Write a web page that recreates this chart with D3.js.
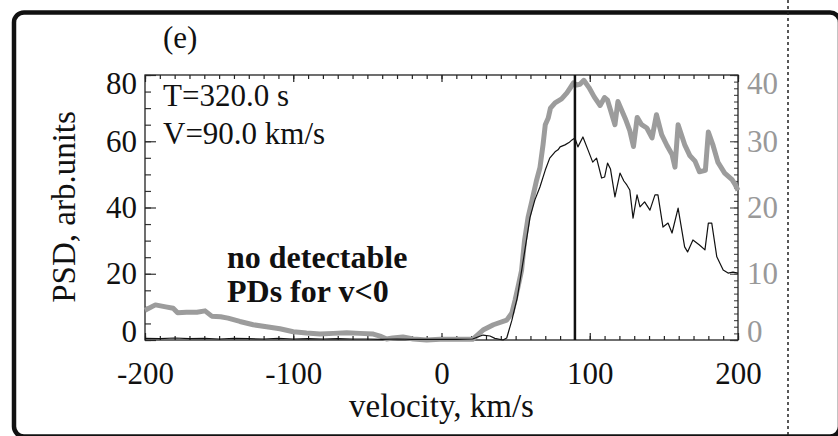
<!DOCTYPE html>
<html>
<head>
<meta charset="utf-8">
<script src="https://cdn.jsdelivr.net/npm/d3@7"></script>
<style>
  body { margin: 0; background: #fff; }
  svg { display: block; }
</style>
</head>
<body>
<div class="psdChart"></div>
<script>
// gray thick curve (right axis)
const grayV = [-200, -193, -186, -181, -178, -172, -165, -159.5, -155, -149, -144, -136, -127, -118, -109, -100,
  -91, -82, -73, -64, -55, -46, -41.5, -37, -33, -26, -19, -10, -1, 21, 28, 35, 44, 47.5, 49.6, 51.6, 54, 56,
  58.4, 61, 64, 66.4, 68.5, 70, 72, 73.5, 76.6, 81, 84.6, 86.7, 89, 91, 93.4, 96, 99.5, 103, 107, 110, 112,
  117, 119, 124, 127, 129.5, 132, 135, 138.5, 142, 145, 148.5, 152, 155.5, 157.5, 159.6, 164, 167.6, 171,
  174, 178, 180, 183, 186.5, 191, 196, 198, 200];
const grayPSD = [4.5, 5.3, 5.0, 4.8, 4.1, 4.2, 4.2, 4.4, 3.6, 3.5, 3.3, 2.8, 2.3, 2.0, 1.7, 1.25,
  1.05, 0.9, 1.0, 1.1, 1.0, 0.9, 0.6, 0.15, 0.3, 0.45, 0.15, 0.0, 0.1, 0.1, 1.5, 2.3, 3.0, 4.1, 6.0, 8.0, 10.5, 15,
  18.5, 21, 24, 26, 29.5, 32.5, 33.5, 35, 35.8, 36.4, 37.3, 38, 38.8, 38.5, 38.6, 39.2, 38.1, 36.7, 35.4, 36.6, 36.2,
  32.5, 36, 33.4, 31.6, 29.2, 33.6, 32.5, 32, 30.5, 34, 31, 29.4, 28, 26.1, 32.5, 29.5, 27.8, 27,
  25.4, 25.6, 31.4, 29.5, 26.8, 25.2, 24.2, 23.5, 22.6];

// black thin curve (left axis)
const blackV = [-200, -190, -180, -170, -160, -150, -140, -130, -120, -110, -100, -90, -80, -70, -60, -50, -40,
  -30, -20, -10, 0, 10, 21, 28, 32.7, 36, 41.5, 44, 47.5, 49.6, 51, 53, 55.5, 57.6, 59.7, 63, 66.4, 70, 73, 76.6,
  78.6, 80, 83.3, 86, 88, 90, 92, 95.4, 98.8, 102, 104.6, 108, 110, 112, 114, 117, 120.4, 123, 125, 127, 129.2,
  131.9, 133.9, 137, 140.6, 144, 146, 149.4, 152.8, 155.5, 159.6, 164, 166, 169.6, 174, 177.7, 180, 182.3,
  185.7, 190, 193.3, 196.6, 200];
const blackPSD = [0.5, 0.4, 0.6, 0.4, 0.5, 0.3, 0.5, 0.4, 0.3, 0.5, 0.3, 0.4, 0.3, 0.4, 0.3, 0.3, 0.2,
  0.3, 0.2, 0.2, 0.2, 0.2, 0.3, 1.5, 1.2, 0.5, 0.0, 0.6, 6, 10, 12.5, 18, 25, 31, 37, 42.3, 46.2, 51.3, 54.9, 56.8,
  57.4, 58.3, 58.9, 59.6, 60.4, 61, 58.3, 61.3, 57.4, 53.7, 54.9, 48.9, 49.2, 53.4, 51.6, 43.2, 50.4, 48, 46.8, 45.3, 36.8,
  43.8, 40.2, 41.7, 39.2, 43.8, 43.8, 34.1, 35.3, 32.3, 39.8, 28.1, 26.6, 30.2, 28.7, 27.2, 35.3, 35.3,
  25.1, 21.1, 20.2, 20.5, 20.2];

const xTicks = [-200, -100, 0, 100, 200];
const yLeftTicks = [0, 20, 40, 60, 80];
const yRightTicks = [0, 10, 20, 30, 40];
const markerV = 90;

const W = 838, H = 436;
const pxLeft = 145, pxRight = 738, pxTop = 75, pxBottom = 340;
const serif = 'Liberation Serif, Times New Roman, DejaVu Serif, serif';

const svg = d3.select('.psdChart').append('svg')
  .attr('width', W).attr('height', H)
  .attr('font-family', serif);

// panel frame + dotted separator
svg.append('rect')
  .attr('x', 14).attr('y', 12.5).attr('width', 826).attr('height', 424)
  .attr('rx', 10).attr('fill', 'none').attr('stroke', '#111').attr('stroke-width', 4.5);
svg.append('line')
  .attr('x1', 788).attr('x2', 788).attr('y1', 0).attr('y2', H)
  .attr('stroke', '#222').attr('stroke-width', 1.5).attr('stroke-dasharray', '3,3');

const scX = d3.scaleLinear().domain([-200, 200]).range([pxLeft, pxRight]);
const scY = d3.scaleLinear().domain([0, 80]).range([pxBottom, pxTop]);
const scY2 = d3.scaleLinear().domain([0, 40]).range([pxBottom, pxTop]);

const fontSize = 31;

function styleAxis(g, color, textColor) {
  g.attr('font-family', serif);
  g.select('.domain').remove();
  g.selectAll('line').attr('stroke', color).attr('stroke-width', 1.2);
  g.selectAll('text').attr('font-size', fontSize).attr('fill', textColor)
    .attr('font-family', serif);
}

// minor ticks
const xMinor = d3.range(-200, 201, 10);
const yMinor = d3.range(0, 81, 5);
const y2Minor = d3.range(0, 41, 1);

svg.append('g').attr('transform', `translate(0,${pxBottom})`)
  .call(d3.axisBottom(scX).tickValues(xMinor).tickSize(-4).tickFormat(''))
  .call(g => styleAxis(g, '#222', '#111'));
svg.append('g').attr('transform', `translate(0,${pxTop})`)
  .call(d3.axisTop(scX).tickValues(xMinor).tickSize(-4).tickFormat(''))
  .call(g => styleAxis(g, '#222', '#111'));
svg.append('g').attr('transform', `translate(${pxLeft},0)`)
  .call(d3.axisLeft(scY).tickValues(yMinor).tickSize(-6).tickFormat(''))
  .call(g => styleAxis(g, '#333', '#111'));
svg.append('g').attr('transform', `translate(${pxRight},0)`)
  .call(d3.axisRight(scY2).tickValues(y2Minor).tickSize(-4).tickFormat(''))
  .call(g => styleAxis(g, '#555', '#999'));

// major ticks + labels
svg.append('g').attr('transform', `translate(0,${pxBottom})`)
  .call(d3.axisBottom(scX).tickValues(xTicks).tickSize(-7).tickPadding(22).tickFormat(d => String(d)))
  .call(g => styleAxis(g, '#222', '#111'));
svg.append('g').attr('transform', `translate(0,${pxTop})`)
  .call(d3.axisTop(scX).tickValues(xTicks).tickSize(-7).tickFormat(''))
  .call(g => styleAxis(g, '#222', '#111'));
svg.append('g').attr('transform', `translate(${pxLeft},0)`)
  .call(d3.axisLeft(scY).tickValues(yLeftTicks).tickSize(-11).tickPadding(8))
  .call(g => styleAxis(g, '#333', '#111'))
  .call(g => g.selectAll('text').attr('dy', d => d === 80 ? '0.6em' : d === 0 ? '0.05em' : '0.32em'));
svg.append('g').attr('transform', `translate(${pxRight},0)`)
  .call(d3.axisRight(scY2).tickValues(yRightTicks).tickSize(-8).tickPadding(9))
  .call(g => styleAxis(g, '#555', '#999'))
  .call(g => g.selectAll('text').attr('dy', d => d === 40 ? '0.6em' : d === 0 ? '0.05em' : '0.32em'));

// plot box
svg.append('rect')
  .attr('x', pxLeft).attr('y', pxTop).attr('width', pxRight - pxLeft).attr('height', pxBottom - pxTop)
  .attr('fill', 'none').attr('stroke', '#222').attr('stroke-width', 1.3);

// curves
const grayData = grayV.map((v, i) => [v, grayPSD[i]]);
const blackData = blackV.map((v, i) => [v, blackPSD[i]]);

const grayLine = d3.line().x(d => scX(d[0])).y(d => scY2(d[1]));
const blackLine = d3.line().x(d => scX(d[0])).y(d => scY(d[1]));

svg.append('path').attr('d', grayLine(grayData))
  .attr('fill', 'none').attr('stroke', '#9c9c9c').attr('stroke-width', 5)
  .attr('stroke-linejoin', 'round');
svg.append('path').attr('d', blackLine(blackData))
  .attr('fill', 'none').attr('stroke', '#111').attr('stroke-width', 1.2)
  .attr('stroke-linejoin', 'round');

// marker velocity
svg.append('line')
  .attr('x1', scX(markerV)).attr('x2', scX(markerV)).attr('y1', pxTop).attr('y2', pxBottom)
  .attr('stroke', '#111').attr('stroke-width', 2.5);

// texts
const txt = (x, y, s, opts = {}) => svg.append('text')
  .attr('x', x).attr('y', y).attr('font-size', opts.size || 31)
  .attr('font-family', serif)
  .attr('font-weight', opts.weight || 'normal')
  .attr('text-anchor', opts.anchor || 'start')
  .attr('fill', '#111').text(s);

txt(163, 48, '(e)');
txt(163, 106, 'T=320.0 s');
txt(163, 144, 'V=90.0 km/s');
txt(227, 268, 'no detectable', { weight: 'bold', size: 32 });
txt(227, 302, 'PDs for v<0', { weight: 'bold', size: 32 });
txt(scX(0), 417, 'velocity, km/s', { anchor: 'middle', size: 33 });

svg.append('text')
  .attr('transform', `translate(75,207) rotate(-90)`)
  .attr('text-anchor', 'middle').attr('font-size', 33).attr('fill', '#111')
  .attr('font-family', serif)
  .text('PSD, arb.units');
</script>
</body>
</html>
